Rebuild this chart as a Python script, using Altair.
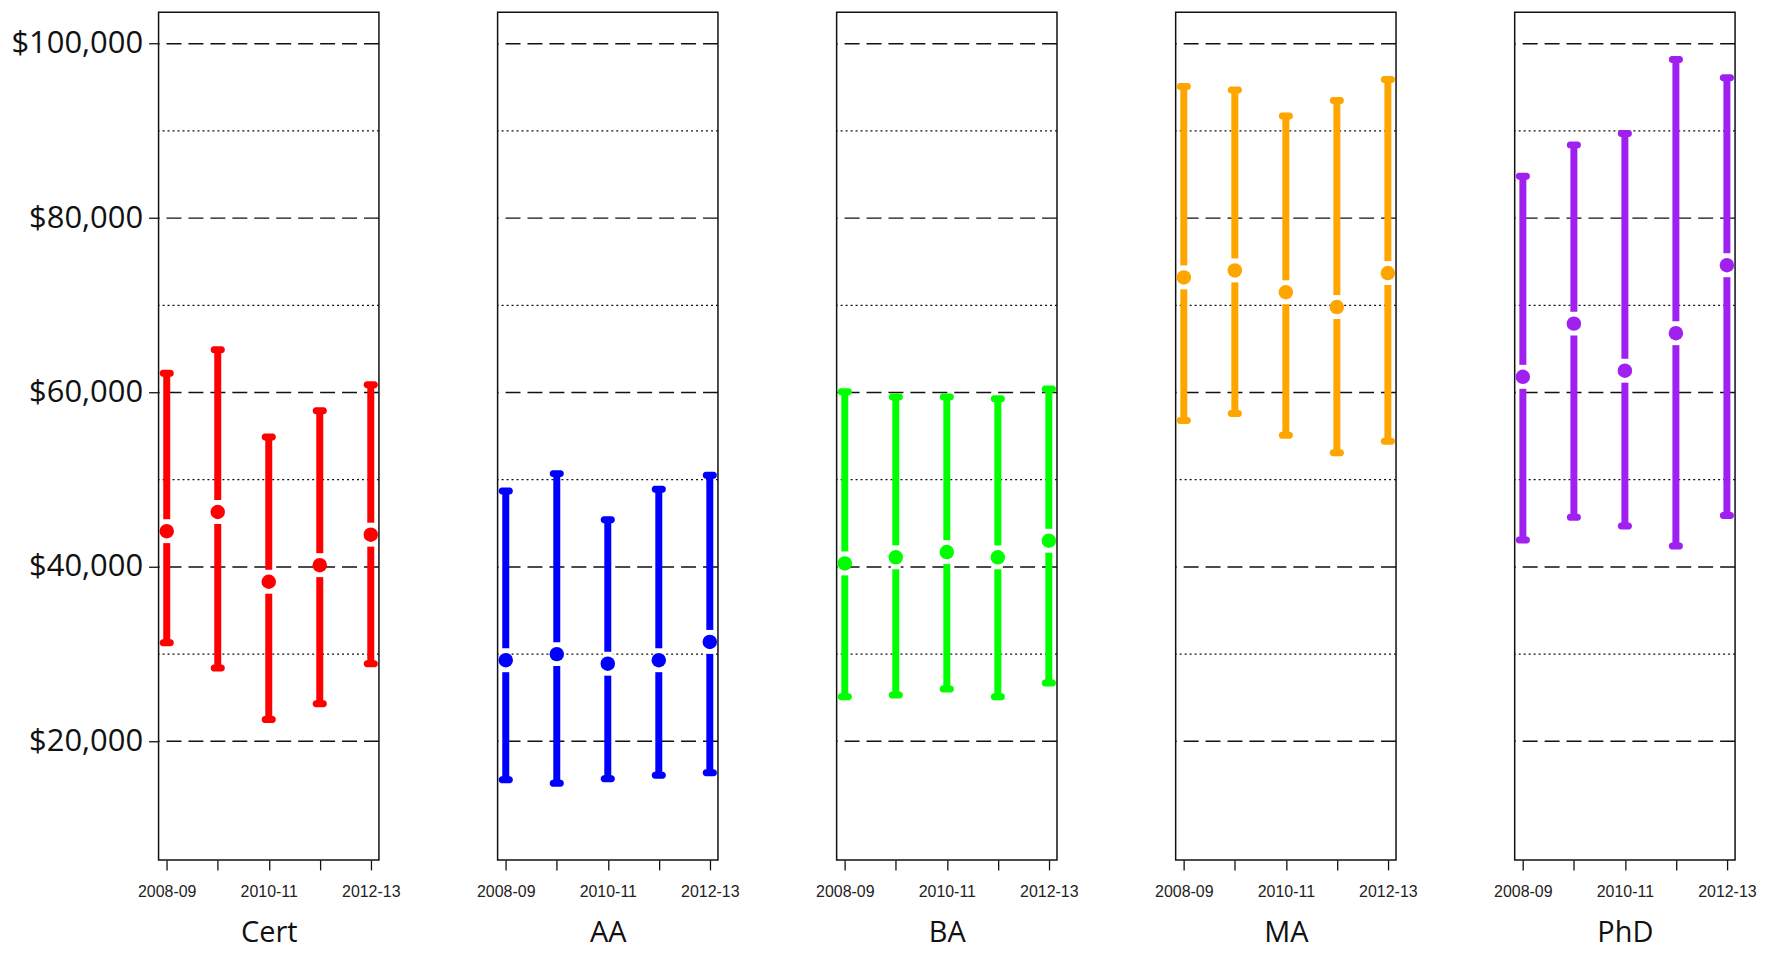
import altair as alt
import pandas as pd

# ---- data ----
years = ["2008-09", "2009-10", "2010-11", "2011-12", "2012-13"]
shown_years = ["2008-09", "2010-11", "2012-13"]
degrees = ["Cert", "AA", "BA", "MA", "PhD"]
colors = ["#FF0000", "#0000FF", "#00FF00", "#FFA500", "#A020F0"]

cert_low = [31300, 28400, 22500, 24300, 28900]
cert_mean = [44100, 46300, 38300, 40200, 43700]
cert_high = [62200, 64900, 54900, 57900, 60900]

aa_low = [15600, 15200, 15700, 16100, 16400]
aa_mean = [29300, 30000, 28900, 29300, 31400]
aa_high = [48700, 50700, 45400, 48900, 50500]

ba_low = [25100, 25300, 26000, 25100, 26700]
ba_mean = [40400, 41100, 41700, 41100, 43000]
ba_high = [60100, 59500, 59500, 59300, 60400]

ma_low = [56800, 57600, 55100, 53100, 54400]
ma_mean = [73200, 74000, 71500, 69800, 73700]
ma_high = [95100, 94700, 91700, 93500, 95900]

phd_low = [43100, 45700, 44700, 42400, 45900]
phd_mean = [61800, 67900, 62500, 66800, 74600]
phd_high = [84800, 88400, 89700, 98200, 96100]

dashed_grid = [20000, 40000, 60000, 80000, 100000]
dotted_grid = [30000, 50000, 70000, 90000]
y_ticks = [20000, 40000, 60000, 80000, 100000]
y_domain = [6400, 103600]

series = {
    "Cert": (cert_low, cert_mean, cert_high),
    "AA": (aa_low, aa_mean, aa_high),
    "BA": (ba_low, ba_mean, ba_high),
    "MA": (ma_low, ma_mean, ma_high),
    "PhD": (phd_low, phd_mean, phd_high),
}

PANEL_W = 221
PANEL_H = 850

label_expr = "indexof([" + ",".join("'%s'" % s for s in shown_years) + "], datum.label) >= 0 ? datum.label : ''"

grid_dash_df = pd.DataFrame({"v": dashed_grid})
grid_dot_df = pd.DataFrame({"v": dotted_grid})


def panel(i, deg):
    low, mean, high = series[deg]
    df = pd.DataFrame({"year": years, "low": low, "mean": mean, "high": high})
    col = colors[i]

    yscale = alt.Scale(domain=y_domain, nice=False, zero=False)
    if i == 0:
        yaxis = alt.Axis(values=y_ticks, format="$,.0f", title=None, grid=False,
                         domain=False, tickSize=10, tickColor="#111", tickWidth=1.3,
                         labelFont="Open Sans", labelFontSize=31, labelColor="#111",
                         labelPadding=6)
    else:
        yaxis = None

    xscale = alt.Scale(type="point", domain=years, padding=0.16)
    xaxis = alt.Axis(title=deg, labelExpr=label_expr, labelAngle=0, domain=False,
                     tickSize=10, tickColor="#111", tickWidth=1.3,
                     labelFont="Liberation Sans", labelFontSize=16, labelColor="#222",
                     labelPadding=14, titleFont="Open Sans", titleFontSize=29,
                     titleFontWeight="normal", titleColor="#111", titlePadding=19,
                     grid=False)

    def X():
        return alt.X("year:O", scale=xscale, axis=xaxis, title=deg)

    def Y(field):
        return alt.Y(field, type="quantitative", scale=yscale, axis=yaxis, title=None)

    base = alt.Chart(df)

    g1 = alt.Chart(grid_dash_df).mark_rule(color="#111", strokeWidth=1.5, strokeDash=[15, 7]).encode(
        y=Y("v")
    )
    g2 = alt.Chart(grid_dot_df).mark_rule(color="#111", strokeWidth=1.3, strokeDash=[2, 3]).encode(
        y=Y("v")
    )
    bars = base.mark_rule(color=col, strokeWidth=7).encode(
        x=X(), y=Y("low"), y2="high:Q",
    )
    gap = base.mark_tick(orient="vertical", color="white", size=24, thickness=10, opacity=1).encode(
        x=X(), y=Y("mean"),
    )
    cap_hi = base.mark_tick(orient="horizontal", color=col, size=14, thickness=7, cornerRadius=3, opacity=1).encode(
        x=X(), y=Y("high"),
    )
    cap_lo = base.mark_tick(orient="horizontal", color=col, size=14, thickness=7, cornerRadius=3, opacity=1).encode(
        x=X(), y=Y("low"),
    )
    pts = base.mark_point(shape="circle", filled=True, color=col, size=210, opacity=1).encode(
        x=X(), y=Y("mean"),
    )
    return alt.layer(g1, g2, bars, gap, cap_hi, cap_lo, pts).properties(width=PANEL_W, height=PANEL_H)


chart = alt.hconcat(*[panel(i, d) for i, d in enumerate(degrees)], spacing=75).properties(
    padding={"left": 2, "top": 2, "right": 0, "bottom": 0}
).configure_view(
    stroke="#111", strokeWidth=1.5
)

chart.save("out.html", embed_options={"renderer": "svg", "actions": False})
